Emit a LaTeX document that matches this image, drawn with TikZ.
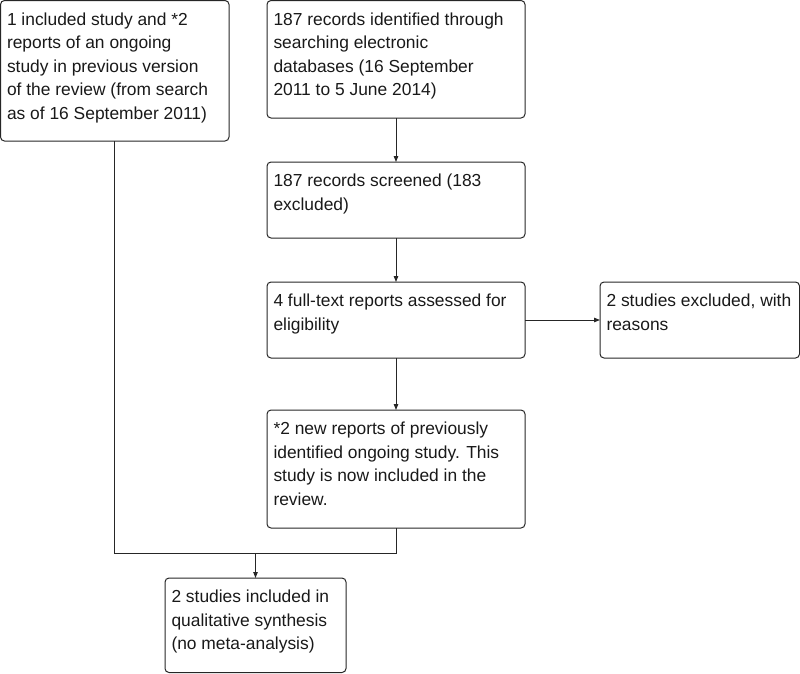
\documentclass[tikz,border=0pt]{standalone}
\usepackage{fontspec}
\setmainfont{Liberation Sans}
\usetikzlibrary{arrows.meta}
\newcommand{\btext}[3]{\parbox[c][#2pt][t]{#1pt}{\raggedright\strut #3}}
\begin{document}
\begin{tikzpicture}[x=1pt,y=-1pt,
  box/.style={draw=black!85, line width=1pt, rounded corners=4pt, inner xsep=6.5pt, inner ysep=8.6pt, outer sep=0pt, anchor=north west, font=\fontsize{17.4}{23.4}\selectfont, text=black!90},
  arr/.style={draw=black!85, line width=1pt, -{Triangle[length=6pt,width=4.5pt]}},
  ln/.style={draw=black!85, line width=1pt}]
\useasboundingbox (0,0) rectangle (800,673);
\node[box] (L) at (0.5,0.5) {\btext{215.5}{123.3}{1 included study and *2\\reports of an ongoing\\study in previous version\\of the review (from search\\as of 16 September 2011)}};
\node[box] (T1) at (267,0.5) {\btext{245}{100.3}{187 records identified through\\searching electronic\\databases (16 September\\2011 to 5 June 2014)}};
\node[box] (T2) at (267,162) {\btext{245}{58.8}{187 records screened (183\\excluded)}};
\node[box] (T3) at (267,282) {\btext{245}{58.8}{4 full-text reports assessed for\\eligibility}};
\node[box] (X) at (600,282) {\btext{186.5}{58.8}{2 studies excluded, with\\reasons}};
\node[box] (T4) at (267,410) {\btext{245}{100.8}{*2 new reports of previously\\identified ongoing study. This\\study is now included in the\\review.}};
\node[box] (F) at (165,578) {\btext{168}{77.3}{2 studies included in\\qualitative synthesis\\(no meta-analysis)}};
\draw[arr] (T1.south) -- (T2.north);
\draw[arr] (T2.south) -- (T3.north);
\draw[arr] (T3.south) -- (T4.north);
\draw[arr] (T3.east) -- (X.west);
\coordinate (j) at (F.north |- 0,553);
\draw[ln] (L.south) |- (j) -| (T4.south);
\draw[arr] (j) -- (F.north);
\end{tikzpicture}
\end{document}
